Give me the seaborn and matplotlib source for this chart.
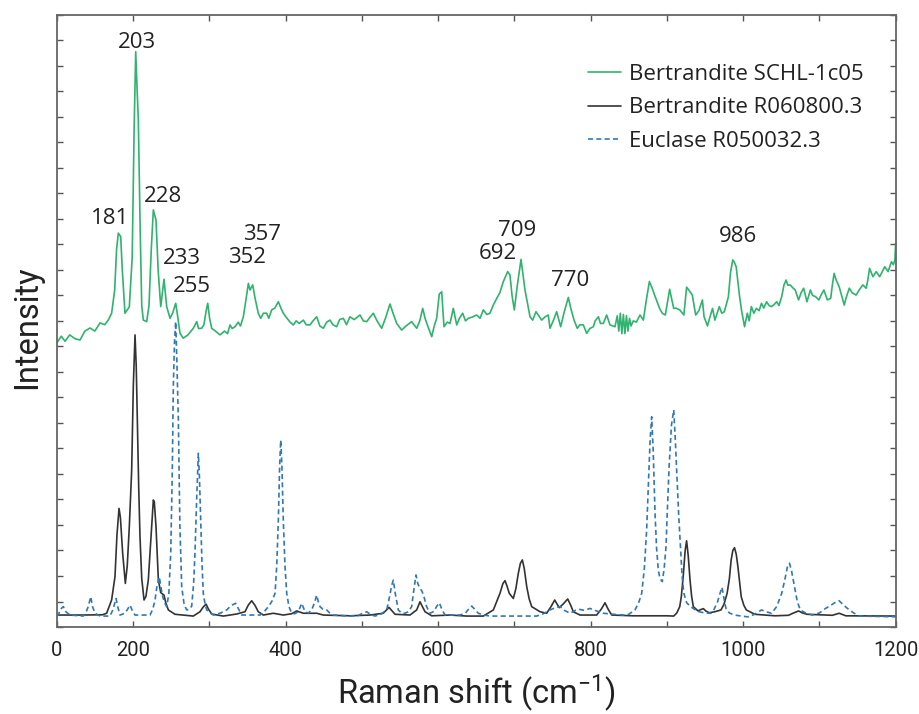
import numpy as np
import pandas as pd
import matplotlib
matplotlib.use('Agg')
import matplotlib.pyplot as plt
import seaborn as sns

# spectra (Raman shift in cm-1, intensity in arbitrary units)
green_x = [100, 106, 111, 117, 124, 130.6, 137, 143.7, 150, 156.8, 163, 168, 172, 176, 178.5, 180.8, 183.9, 186, 189.5, 195.2,
           199, 201.5, 203.6, 205.5, 207, 209.5, 211.5, 213.6, 218, 221, 224, 226.7, 230.2, 233, 236.4, 240.7, 244.2, 248.6, 252, 256,
           258.5, 261.7, 266, 272, 279.1, 283.6, 286, 290.1, 293, 296, 298, 300.5, 303.2, 308, 314.1, 320, 324, 327.2, 330, 333.8,
           338, 341, 344.7, 348, 351.3, 353.4, 357, 360, 364.3, 367.5, 371, 375.3, 378, 381.9, 386, 390.6, 394, 397.1, 402, 406,
           410.3, 414, 418, 423.4, 427, 432.1, 436, 440.9, 445, 449.6, 454, 458.3, 462, 467.1, 471, 475.8, 480, 484.5, 490, 497.7,
           502, 506.5, 511, 515.1, 520, 526.1, 531, 537, 541, 545.8, 552.3, 558, 565.4, 572, 576, 579.9, 583, 586, 591.7, 595,
           598.2, 601.6, 604.8, 607.8, 612, 615.7, 620, 624.5, 628, 632.3, 636, 639.7, 645, 650.7, 655, 659.4, 664, 668.1, 672.5, 676.9,
           681, 685.6, 691.3, 694.3, 697, 700, 704, 708.8, 714, 720.6, 724.1, 728.4, 732, 735.9, 740, 744.5, 746.8, 751, 755.5, 760.8,
           765, 770.8, 774, 778.3, 782.6, 786, 790.5, 794.9, 799, 803.6, 806, 810.2, 813, 816.7, 821.1, 825.5, 832, 835, 837, 839,
           841, 843, 845, 847, 849, 851, 853, 856, 860, 864.8, 869.2, 873, 877.1, 880.5, 884.7, 890.5, 894, 898, 903.7, 906,
           909, 912, 916.9, 922.3, 925.9, 929, 933.4, 937.8, 942, 946.6, 948.8, 953.3, 956, 959.9, 963, 966, 968.8, 972, 975.4, 980.7,
           983.5, 986.4, 988.5, 990.9, 995.4, 998, 1001.9, 1005.5, 1008, 1010.8, 1014, 1017.4, 1021, 1024.1, 1027, 1030.8, 1034, 1037.3, 1041, 1044,
           1047, 1050.6, 1053.5, 1056.3, 1058.5, 1061.7, 1065, 1068.3, 1072.7, 1076, 1079.4, 1083.7, 1088.2, 1091, 1094.9, 1099.3, 1102, 1105.9, 1110.4, 1114.8,
           1117, 1119.3, 1122, 1125.9, 1129, 1132.6, 1135, 1139.2, 1143, 1148.1, 1152, 1156.9, 1161.4, 1163.5, 1165.8, 1170.2, 1174.5, 1179, 1182, 1185.7,
           1190.1, 1194.5, 1197, 1199, 1200]
green_y = [11.13, 11.4, 11.2, 11.45, 11.3, 11.25, 11.6, 11.72, 11.6, 11.92, 11.85, 12.05, 12.3, 13.2, 14.8, 15.44, 15.3, 14.0, 12.3, 12.55,
           14.5, 19.5, 22.55, 21.0, 19.9, 15.5, 12.6, 12.03, 11.97, 12.6, 14.8, 16.35, 15.95, 14.0, 12.56, 13.63, 12.56, 12.1, 12.3, 12.69,
           12.2, 11.51, 11.32, 11.45, 11.71, 11.97, 11.7, 11.71, 11.85, 12.4, 12.69, 12.1, 11.71, 11.6, 11.45, 11.6, 11.5, 11.84, 11.7, 11.77,
           11.95, 11.8, 12.16, 12.8, 13.47, 13.21, 13.41, 12.9, 12.3, 12.1, 12.3, 12.3, 12.1, 12.43, 12.5, 12.75, 12.5, 12.3, 12.1, 11.95,
           11.84, 12.0, 11.9, 12.03, 11.85, 11.84, 12.0, 12.16, 11.8, 11.71, 11.95, 12.03, 11.85, 11.77, 12.05, 12.1, 11.85, 12.16, 12.05, 12.23,
           12.0, 11.97, 12.15, 12.3, 12.0, 11.71, 12.1, 12.66, 12.3, 11.9, 11.64, 11.8, 11.97, 11.71, 12.0, 12.49, 12.1, 11.84, 11.38, 11.8,
           12.1, 13.05, 13.14, 11.77, 11.95, 11.9, 12.49, 11.84, 12.1, 12.3, 12.0, 12.1, 12.15, 12.23, 12.1, 12.43, 12.25, 12.3, 12.62, 12.88,
           13.1, 13.54, 13.93, 13.8, 13.0, 12.43, 13.4, 14.41, 13.21, 12.16, 12.03, 12.36, 12.2, 12.03, 12.15, 12.23, 11.71, 12.0, 12.36, 11.77,
           12.3, 12.92, 12.5, 12.03, 11.71, 11.85, 11.84, 11.51, 11.7, 11.77, 12.0, 12.16, 11.9, 11.9, 12.23, 11.84, 11.77, 12.2, 11.6, 12.3,
           11.5, 12.25, 11.5, 12.2, 11.6, 12.1, 11.8, 12.0, 11.95, 12.23, 12.03, 12.8, 13.54, 13.3, 12.95, 12.49, 12.3, 12.23, 13.24, 12.9,
           12.49, 12.5, 12.43, 12.23, 13.32, 13.2, 13.01, 12.23, 12.4, 12.82, 12.16, 11.8, 12.1, 12.49, 12.03, 12.3, 12.56, 12.3, 12.36, 12.95,
           13.9, 14.39, 14.3, 14.12, 12.95, 12.4, 11.77, 12.3, 12.0, 12.56, 12.3, 12.49, 12.4, 12.69, 12.5, 12.75, 12.6, 12.56, 12.65, 12.75,
           12.6, 12.95, 13.4, 13.6, 13.4, 13.41, 13.3, 13.21, 12.82, 13.1, 13.28, 12.75, 13.21, 13.0, 12.95, 12.82, 13.0, 13.21, 12.82, 12.88,
           13.4, 13.86, 13.6, 13.34, 13.0, 12.62, 12.9, 13.28, 13.1, 13.01, 13.2, 13.41, 13.28, 13.6, 14.06, 13.73, 13.93, 13.73, 13.9, 14.12,
           13.93, 14.32, 14.2, 14.39, 15.04]

black_x = [100, 130, 160, 165.5, 172, 176.4, 179, 181.7, 183.5, 186.5, 190, 192.5, 195.2, 198.3, 200.5, 202.7, 204.3, 205.7, 207.5, 209.2,
           211.5, 214.5, 217, 220.1, 223.6, 226.7, 228, 230.2, 233.3, 236.4, 240.7, 243, 246.4, 255.1, 279.1, 287.9, 292, 295.8, 299, 303.2,
           318.4, 336, 346.9, 351, 355.6, 360, 364.3, 370.9, 384, 397.1, 408, 414.7, 423.4, 440.9, 449.6, 484.6, 510.8, 528.2, 535.7, 543.6,
           563.2, 572, 576.3, 582.9, 591.7, 615.7, 637.6, 659.4, 672.5, 681.2, 685, 687.8, 690.5, 693.4, 698.7, 702, 705.2, 708, 710.5, 713,
           716.3, 719.5, 722.8, 733.7, 742.4, 748.1, 753, 756, 759, 764, 770, 774, 777.4, 786.1, 808, 814, 818.9, 823, 827.7, 856,
           899.8, 909, 913, 916.9, 919, 921.4, 924, 925.9, 928, 930.4, 932.5, 934.7, 940.9, 944, 947.9, 951, 955.5, 963, 971, 975,
           979, 982, 984.3, 986.5, 988.7, 991, 993.2, 997.5, 1001, 1004.2, 1015.2, 1041.8, 1059.5, 1066, 1072.7, 1078, 1083.7, 1117, 1125.9, 1134.7,
           1200]
black_y = [0.47, 0.47, 0.48, 0.54, 1.06, 1.97, 3.6, 4.65, 4.3, 2.89, 1.71, 2.4, 3.93, 6.15, 9.5, 11.45, 10.2, 8.11, 5.5, 3.54,
           1.9, 1.06, 1.2, 1.84, 3.54, 4.98, 4.9, 3.93, 1.84, 1.35, 1.25, 0.95, 0.67, 0.5, 0.43, 0.6, 0.78, 0.9, 0.7, 0.51,
           0.43, 0.51, 0.6, 0.85, 1.03, 0.85, 0.6, 0.47, 0.54, 0.47, 0.52, 0.63, 0.54, 0.54, 0.47, 0.44, 0.47, 0.54, 0.77, 0.5,
           0.47, 0.67, 0.99, 0.6, 0.44, 0.47, 0.43, 0.43, 0.67, 1.32, 1.7, 1.82, 1.6, 1.32, 1.12, 1.5, 2.1, 2.5, 2.63, 2.3,
           1.58, 1.1, 0.8, 0.6, 0.54, 0.8, 1.06, 0.9, 0.76, 0.9, 1.1, 0.85, 0.6, 0.47, 0.47, 0.7, 0.95, 0.7, 0.47, 0.44,
           0.44, 0.43, 0.55, 0.8, 1.2, 1.97, 3.0, 3.38, 2.8, 1.84, 1.2, 0.8, 0.63, 0.68, 0.72, 0.63, 0.56, 0.6, 0.67, 0.9,
           1.32, 1.9, 2.63, 3.0, 3.11, 2.85, 2.36, 1.19, 0.85, 0.67, 0.5, 0.44, 0.46, 0.55, 0.63, 0.55, 0.5, 0.46, 0.54, 0.44,
           0.43]

blue_x = [100, 102, 105, 108.7, 112, 117.4, 134.9, 138, 141.4, 144.6, 147, 150.2, 156.8, 169.9, 174, 177.8, 180, 183, 189.5, 193,
          196.1, 199, 202.7, 222.3, 226, 228.9, 231.5, 234.5, 237, 239, 241.5, 244.2, 247, 249.5, 251.5, 252.9, 254.5, 256, 257.5, 259.5,
          261.5, 263.9, 267, 270.4, 274, 277, 279.5, 281.3, 283.5, 285.7, 287, 288.8, 290.5, 292.2, 294.5, 296.7, 305.4, 315, 322.9, 329,
          334.7, 338.5, 342.6, 366.6, 372, 377.5, 382, 386.3, 388.5, 390.6, 392.3, 393.7, 395.3, 397.1, 399.3, 401.6, 404.5, 408.1, 412, 416.8,
          421.2, 425.6, 430, 434.3, 438, 440.9, 443, 445.2, 449, 454, 458, 462.7, 484.6, 495, 500, 506.5, 511, 517.3, 525, 532.7,
          536.5, 539, 541.3, 544, 547.9, 552, 556.7, 561, 565.4, 568, 571.1, 573.5, 576.3, 579, 581.5, 585, 589.4, 595, 598, 601.6,
          605, 609.1, 628.8, 636, 640, 644.1, 648, 652.8, 660, 668.1, 729.3, 738, 746.8, 753, 759.9, 766, 773, 780, 786.1, 792,
          799.2, 806, 816.7, 830, 842.9, 850, 858.2, 863, 867, 870.5, 873.5, 876, 878, 880.1, 882, 884.5, 886.5, 888.8, 891, 894,
          896.5, 898.9, 900.5, 903, 906, 909, 911, 913.4, 915.5, 917.9, 920, 922.3, 926, 931.1, 936, 942.2, 950, 957.7, 962, 966.5,
          969.5, 972.3, 975, 977.5, 982, 988.7, 1000, 1006.4, 1015, 1024.1, 1030, 1037.3, 1044, 1050.6, 1055, 1058, 1060.8, 1063.5, 1066, 1068.3,
          1071, 1075, 1082, 1090.4, 1100, 1108.1, 1115, 1120, 1125.9, 1132, 1139.2, 1145, 1152.4, 1170, 1200]
blue_y = [0.45, 0.47, 0.7, 0.8, 0.6, 0.47, 0.43, 0.55, 0.8, 1.19, 0.8, 0.54, 0.43, 0.43, 0.7, 1.12, 0.8, 0.47, 0.54, 0.7,
          0.86, 0.65, 0.47, 0.47, 0.7, 1.06, 1.6, 1.97, 1.5, 1.19, 0.95, 0.8, 1.3, 2.89, 6.0, 9.42, 11.2, 11.97, 10.5, 8.11,
          4.0, 1.58, 0.9, 0.67, 0.7, 0.82, 1.7, 2.89, 5.0, 6.81, 6.0, 4.19, 2.5, 1.32, 0.9, 0.67, 0.47, 0.55, 0.67, 0.85,
          0.93, 0.7, 0.47, 0.47, 0.6, 0.8, 1.0, 1.32, 2.4, 4.19, 6.3, 7.33, 6.3, 4.19, 2.4, 1.32, 0.8, 0.54, 0.52, 0.6,
          0.93, 0.6, 0.55, 0.67, 0.95, 1.25, 1.0, 0.8, 0.7, 0.67, 0.55, 0.47, 0.43, 0.45, 0.52, 0.6, 0.5, 0.43, 0.5, 0.67,
          1.2, 1.6, 1.84, 1.3, 0.67, 0.55, 0.54, 0.6, 0.8, 1.4, 2.04, 1.7, 1.52, 1.4, 1.19, 0.8, 0.54, 0.62, 0.8, 0.95,
          0.7, 0.47, 0.47, 0.55, 0.7, 0.82, 0.7, 0.54, 0.47, 0.43, 0.43, 0.52, 0.67, 0.75, 0.8, 0.65, 0.54, 0.65, 0.69, 0.65,
          0.73, 0.65, 0.54, 0.5, 0.47, 0.5, 0.67, 0.95, 1.32, 2.3, 3.8, 5.8, 7.3, 8.24, 7.0, 4.46, 3.1, 2.23, 1.9, 1.78,
          2.3, 3.15, 4.46, 6.3, 7.9, 8.51, 7.4, 5.76, 4.4, 3.15, 2.0, 1.32, 0.95, 0.8, 0.7, 0.6, 0.55, 0.54, 0.7, 0.99,
          1.3, 1.56, 1.1, 0.73, 0.55, 0.47, 0.42, 0.4, 0.5, 0.67, 0.6, 0.54, 0.8, 1.32, 1.9, 2.35, 2.5, 2.2, 1.8, 1.45,
          1.0, 0.67, 0.55, 0.47, 0.55, 0.73, 0.85, 0.95, 1.03, 0.85, 0.67, 0.55, 0.43, 0.42, 0.4]

series_names = ['Bertrandite SCHL-1c05', 'Bertrandite R060800.3', 'Euclase R050032.3']

# peak labels on the green spectrum
peak_labels = ['203', '181', '228', '233', '255', '352', '357', '692', '709', '770', '986']
peak_pos = [(205, 22.93), (170, 16.03), (239.5, 16.86), (264.5, 14.46), (277.5, 13.33), (349.5, 14.5),
            (369, 15.37), (678.5, 14.66), (703.5, 15.56), (773, 13.6), (993, 15.29)]

xtick_vals = list(range(100, 1201, 100))
xtick_text = ['0', '200', '', '400', '', '600', '', '800', '', '1000', '', '1200']

df = pd.concat([
    pd.DataFrame({'shift': green_x, 'intensity': green_y, 'sample': series_names[0]}),
    pd.DataFrame({'shift': black_x, 'intensity': black_y, 'sample': series_names[1]}),
    pd.DataFrame({'shift': blue_x, 'intensity': blue_y, 'sample': series_names[2]}),
])

sns.set_style('ticks')
plt.rcParams['font.family'] = ['Open Sans', 'DejaVu Sans']
plt.rcParams['mathtext.fontset'] = 'custom'
plt.rcParams['mathtext.default'] = 'regular'

axfont = ['Roboto', 'DejaVu Sans']

fig = plt.figure(figsize=(9.19, 7.14), dpi=100)
ax = fig.add_axes([0.0617, 0.1218, 0.9129, 0.8576])

palette = {series_names[0]: '#2fb36e', series_names[1]: '#333333', series_names[2]: '#2f78b5'}
sns.lineplot(data=df, x='shift', y='intensity', hue='sample', style='sample',
             palette=palette, dashes={series_names[0]: '', series_names[1]: '', series_names[2]: (3, 2)},
             sort=False, estimator=None, linewidth=1.2, ax=ax)

for txt, (px, py) in zip(peak_labels, peak_pos):
    ax.text(px, py, txt, ha='center', va='center', fontsize=16, color='#222222')

ax.set_xlim(100, 1200)
ax.set_ylim(0, 24)
ax.set_xticks(xtick_vals)
ax.set_xticklabels(xtick_text, family=axfont, fontsize=14.5, color='#222222')
ax.set_yticks(range(0, 25))
ax.set_yticklabels([])
ax.tick_params(direction='in', length=4.5, width=1, color='#555555', top=True, right=True, pad=10)
for s in ax.spines.values():
    s.set_color('#666666')
    s.set_linewidth(1.3)

ax.set_xlabel('Raman shift (cm$^{-1}$)', family=axfont, fontsize=23.5, color='#222222', labelpad=9)
ax.set_ylabel('Intensity', family=axfont, fontsize=23.5, color='#222222')
ax.yaxis.set_label_coords(-0.016, 0.49)

leg = ax.legend(loc='upper left', bbox_to_anchor=(588 / 919, 1 - 64 / 714), bbox_transform=fig.transFigure,
                frameon=False, fontsize=16, handlelength=1.5, handletextpad=0.35, labelspacing=0.56,
                borderpad=0, borderaxespad=0)
for t in leg.get_texts():
    t.set_color('#222222')

fig.savefig('out.png', dpi=100)
